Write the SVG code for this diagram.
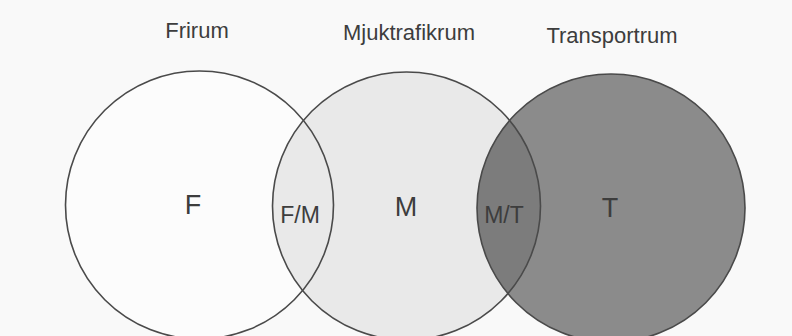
<svg xmlns="http://www.w3.org/2000/svg" width="792" height="336" viewBox="0 0 792 336">
<style>
.lbl{font-family:"Liberation Sans",Arial,sans-serif;fill:#3d3d3d;text-anchor:middle}
.title{font-size:22px}
.big{font-size:27px}
.mid{font-size:23px}
.ring{fill:none;stroke:#4a4a4a;stroke-width:1.6}
</style>
<defs>
<clipPath id="clipM"><circle cx="406.5" cy="206" r="134"/></clipPath>
</defs>
<rect width="792" height="336" fill="#f9f9f9"/>
<g id="fills">
<circle cx="199.5" cy="205" r="134" fill="#fcfcfc"/>
<circle cx="406.5" cy="206" r="134" fill="#e9e9e9"/>
<circle cx="611" cy="208" r="134" fill="#8b8b8b"/>
<circle cx="611" cy="208" r="134" fill="#7c7c7c" clip-path="url(#clipM)"/>
</g>
<g id="F">
<circle class="ring" cx="199.5" cy="205" r="134"/>
<text class="lbl title" x="197" y="38">Frirum</text>
<text class="lbl big" x="193" y="214">F</text>
</g>
<g id="M">
<circle class="ring" cx="406.5" cy="206" r="134"/>
<text class="lbl title" x="409" y="40">Mjuktrafikrum</text>
<text class="lbl big" x="406" y="216">M</text>
</g>
<g id="T">
<circle class="ring" cx="611" cy="208" r="134"/>
<text class="lbl title" x="612" y="43">Transportrum</text>
<text class="lbl big" x="610" y="217">T</text>
</g>
<g id="FM">
<text class="lbl mid" x="300" y="223">F/M</text>
</g>
<g id="MT">
<text class="lbl mid" x="504" y="223">M/T</text>
</g>
</svg>
